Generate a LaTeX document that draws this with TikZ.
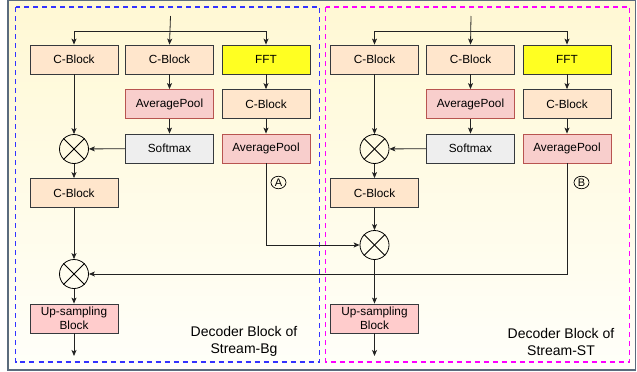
\documentclass[tikz,border=0pt]{standalone}
\usepackage{fontspec}
\setmainfont{Liberation Sans}
\usetikzlibrary{arrows.meta,shapes.geometric}
\definecolor{cbfill}{HTML}{FFE6CC}
\definecolor{apfill}{HTML}{F8CECC}
\definecolor{apdraw}{HTML}{B85450}
\definecolor{upfill}{HTML}{FFCCCC}
\definecolor{smfill}{HTML}{EEEEEE}
\definecolor{fftfill}{HTML}{FFFF22}
\definecolor{linec}{HTML}{222222}
\definecolor{boxdraw}{HTML}{36393D}
\definecolor{bgtop}{HTML}{FFF8D4}
\definecolor{bgbot}{HTML}{FFFFFA}
\definecolor{outerc}{HTML}{5A6B7D}
\definecolor{dashblue}{HTML}{3333FF}
\definecolor{dashmag}{HTML}{FF00FF}
\tikzset{
  blk/.style={draw=boxdraw, line width=0.8pt, minimum width=88pt, minimum height=29pt, inner sep=1pt, align=center, font=\fontsize{11.8}{14}\selectfont},
  cblk/.style={blk, fill=cbfill},
  apblk/.style={blk, fill=apfill, draw=apdraw},
  smblk/.style={blk, fill=smfill},
  fftblk/.style={blk, fill=fftfill},
  upblk/.style={blk, fill=upfill, font=\fontsize{11.8}{14.5}\selectfont},
  mult/.style={circle, draw=black, line width=0.8pt, minimum size=29pt, inner sep=0pt, fill=none},
  conn/.style={draw=linec, line width=0.8pt, -{Stealth[length=6pt,width=5pt,inset=1.5pt]}},
  plain/.style={draw=linec, line width=0.8pt},
  tag/.style={ellipse, draw=black, line width=0.7pt, minimum width=15pt, minimum height=12.5pt, inner sep=0pt, font=\fontsize{11}{12}\selectfont},
  lbl/.style={align=center, font=\fontsize{14}{17}\selectfont}
}
\begin{document}
\begin{tikzpicture}[x=1pt,y=-1pt]
\useasboundingbox (0,0) rectangle (637,372);
% background gradient made of strips
\foreach \i in {0,...,49}{
  \pgfmathsetmacro{\pct}{100-2*\i}
  \pgfmathsetmacro{\ya}{0.5+\i*7.39}
  \pgfmathsetmacro{\yb}{0.5+(\i+1)*7.39+0.3}
  \fill[bgtop!\pct!bgbot] (8,\ya) rectangle (635.5,\yb);
}
\draw[outerc, line width=1.5pt] (8,0.5) rectangle (635.5,370);
\draw[dashblue, line width=1.6pt, dash pattern=on 5pt off 4pt] (15.5,7) rectangle (319.5,362);
\draw[dashmag, line width=1.6pt, dash pattern=on 5pt off 4pt] (325.5,7) rectangle (629.5,362);

% ---------- Stream-Bg ----------
\node[cblk] (acb1) at (74,59.5) {C-Block};
\node[cblk] (acb2) at (169.5,59.5) {C-Block};
\node[fftblk] (afft) at (266,59.5) {FFT};
\node[apblk] (aap1) at (169.5,104) {AveragePool};
\node[cblk] (acb3) at (266,104) {C-Block};
\node[smblk] (asm) at (169.5,148.5) {Softmax};
\node[apblk] (aap2) at (266,148.5) {AveragePool};
\node[mult] (am1) at (74,149) {};
\node[cblk] (acb4) at (74,193) {C-Block};
\node[mult] (am2) at (74,274) {};
\node[upblk] (aup) at (74,318.5) {Up-sampling\\Block};
\coordinate (ain) at (170.5,16);
\coordinate (abr) at (170.5,31);
\coordinate (aout) at (74,356);
\node[tag] (ta) at (278.5,182.5) {A};
\node[lbl] (la) at (244,341.5) {Decoder Block of\\Stream-Bg};

% ---------- Stream-ST ----------
\node[cblk] (bcb1) at (374.5,59.5) {C-Block};
\node[cblk] (bcb2) at (470.5,59.5) {C-Block};
\node[fftblk] (bfft) at (567,59.5) {FFT};
\node[apblk] (bap1) at (470.5,104) {AveragePool};
\node[cblk] (bcb3) at (567,104) {C-Block};
\node[smblk] (bsm) at (470.5,148.5) {Softmax};
\node[apblk] (bap2) at (567,148.5) {AveragePool};
\node[mult] (bm1) at (374.5,149) {};
\node[cblk] (bcb4) at (374.5,193) {C-Block};
\node[mult] (bm3) at (374.5,245) {};
\node[upblk] (bup) at (374.5,318.5) {Up-sampling\\Block};
\coordinate (bin) at (471,16);
\coordinate (bbr) at (471,31);
\coordinate (bout) at (374.5,356);
\node[tag] (tb) at (581.5,182.5) {B};
\node[lbl] (lb) at (561,341.5) {Decoder Block of\\Stream-ST};

% crosses
\foreach \m in {am1,am2,bm1,bm3}{
  \draw[line width=0.8pt] (\m.north west) -- (\m.south east);
  \draw[line width=0.8pt] (\m.north east) -- (\m.south west);
}

% connectors stream-Bg
\draw[conn] (ain) -- (acb2.north);
\draw[plain] (acb1.north |- abr) -- (afft.north |- abr);
\draw[conn] (acb1.north |- abr) -- (acb1.north);
\draw[conn] (afft.north |- abr) -- (afft.north);
\draw[conn] (acb2) -- (aap1);
\draw[conn] (aap1) -- (asm);
\draw[conn] (afft) -- (acb3);
\draw[conn] (acb3) -- (aap2);
\draw[conn] (acb1) -- (am1);
\draw[conn] (asm) -- (am1);
\draw[conn] (am1) -- (acb4);
\draw[conn] (acb4) -- (am2);
\draw[conn] (am2) -- (aup);
\draw[conn] (aup) -- (aout);
\draw[conn] (aap2.south) |- (bm3.west);

% connectors stream-ST
\draw[conn] (bin) -- (bcb2.north);
\draw[plain] (bcb1.north |- bbr) -- (bfft.north |- bbr);
\draw[conn] (bcb1.north |- bbr) -- (bcb1.north);
\draw[conn] (bfft.north |- bbr) -- (bfft.north);
\draw[conn] (bcb2) -- (bap1);
\draw[conn] (bap1) -- (bsm);
\draw[conn] (bfft) -- (bcb3);
\draw[conn] (bcb3) -- (bap2);
\draw[conn] (bcb1) -- (bm1);
\draw[conn] (bsm) -- (bm1);
\draw[conn] (bm1) -- (bcb4);
\draw[conn] (bcb4) -- (bm3);
\draw[conn] (bm3) -- (bup);
\draw[conn] (bup) -- (bout);
\draw[conn] (bap2.south) |- (am2.east);
\end{tikzpicture}
\end{document}
